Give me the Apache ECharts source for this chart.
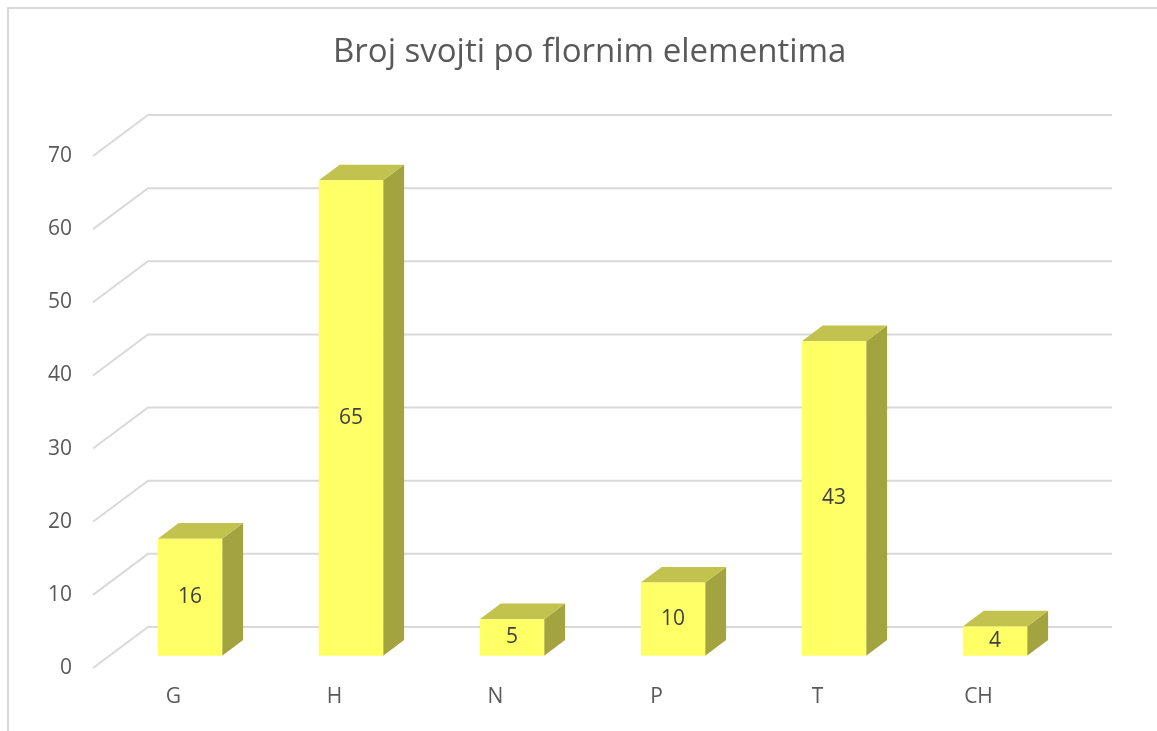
<!DOCTYPE html>
<html>
<head>
<meta charset="utf-8">
<script src="https://cdn.jsdelivr.net/npm/echarts@6/dist/echarts.min.js"></script>
<style>
	html, body { margin: 0; padding: 0; background: #fff; }
	#chartmain { width: 1157px; height: 731px; }
</style>
</head>
<body>
<div id="chartmain"></div>
<script>
var titleText = 'Broj svojti po flornim elementima';
var categories = ['G', 'H', 'N', 'P', 'T', 'CH'];
var counts = [16, 65, 5, 10, 43, 4];
var yTicks = [0, 10, 20, 30, 40, 50, 60, 70];

// pseudo 3D depth (pixels for full depth of the floor)
var DX = 55, DY = 41;
var Z0 = 0.3, Z1 = 0.68;

var fontFam = "'Open Sans', 'Noto Sans', sans-serif";

function gridItem(params, api) {
	var cs = params.coordSys;
	var y = api.coord([0, api.value(0)])[1];
	return {
		type : 'polyline',
		shape : {
			points : [ [ cs.x, y ], [ cs.x + DX, y - DY ], [ cs.x + cs.width + DX - 2, y - DY ] ]
		},
		style : { stroke : '#D9D9D9', lineWidth : 2, fill : null },
		silent : true
	};
}

function barItem(params, api) {
	var idx = api.value(0);
	var base = api.coord([idx, 0]);
	var top = api.coord([idx, api.value(1)]);
	var w = api.size([1, 0])[0] * 0.4;
	var fx = base[0] + DX * Z0 - w / 2;
	var fy0 = base[1] - DY * Z0;
	var fy1 = top[1] - DY * Z0;
	var ddx = DX * (Z1 - Z0), ddy = DY * (Z1 - Z0);
	return {
		type : 'group',
		children : [ {
			type : 'polygon',
			shape : { points : [ [ fx + w, fy0 ], [ fx + w + ddx, fy0 - ddy ], [ fx + w + ddx, fy1 - ddy ], [ fx + w, fy1 ] ] },
			style : { fill : '#A3A33F' }
		}, {
			type : 'polygon',
			shape : { points : [ [ fx, fy1 ], [ fx + w, fy1 ], [ fx + w + ddx, fy1 - ddy ], [ fx + ddx, fy1 - ddy ] ] },
			style : { fill : '#C2C24E' }
		}, {
			type : 'rect',
			shape : { x : fx, y : fy1, width : w, height : fy0 - fy1 },
			style : { fill : '#FFFF66' }
		}, {
			type : 'text',
			x : fx + w / 2,
			y : (fy0 + fy1) / 2,
			style : {
				text : String(api.value(1)),
				align : 'center',
				verticalAlign : 'middle',
				fill : '#404040',
				fontSize : 21,
				fontFamily : fontFam
			}
		} ]
	};
}

var barData = [];
for (var i = 0; i < counts.length; i++) {
	barData.push([ i, counts[i] ]);
}

var option = {
	animation : false,
	title : {
		text : titleText,
		left : 328,
		top : 31,
		textStyle : { color : '#595959', fontSize : 33, fontWeight : 'normal', fontFamily : fontFam }
	},
	grid : { left : 93, right : 98, top : 156, bottom : 63 },
	xAxis : {
		type : 'category',
		data : categories,
		axisLine : { show : false },
		axisTick : { show : false },
		axisLabel : { color : '#595959', fontSize : 21, margin : 19, fontFamily : fontFam }
	},
	yAxis : {
		type : 'value',
		min : 0,
		max : 70,
		interval : 10,
		axisLine : { show : false },
		axisTick : { show : false },
		splitLine : { show : false },
		axisLabel : { color : '#595959', fontSize : 21, margin : 21, fontFamily : fontFam }
	},
	graphic : [ {
		type : 'polyline',
		shape : { points : [ [ 8, 731 ], [ 8, 8 ], [ 1157, 8 ] ] },
		style : { stroke : '#D9D9D9', lineWidth : 2, fill : null },
		silent : true
	} ],
	series : [ {
		type : 'custom',
		renderItem : gridItem,
		data : yTicks.map(function(v) { return [ v ]; }),
		encode : { y : 0 },
		z : 1
	}, {
		type : 'custom',
		renderItem : barItem,
		data : barData,
		encode : { x : 0, y : 1 },
		z : 2
	} ]
};

var myChart = echarts.init(document.getElementById('chartmain'));
myChart.setOption(option);
</script>
</body>
</html>
